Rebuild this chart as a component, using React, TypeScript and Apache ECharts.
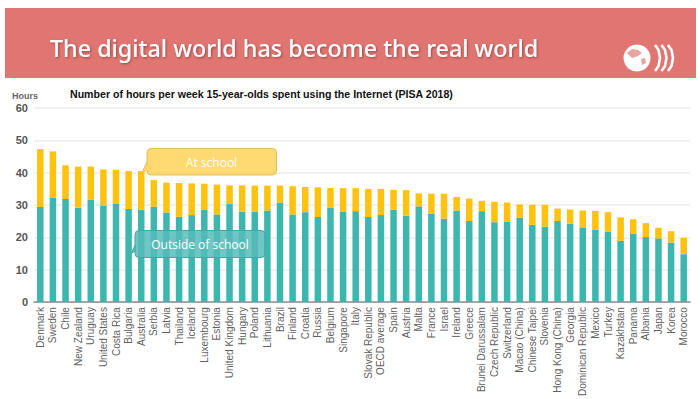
import React, { useEffect, useRef } from "react";
import * as echarts from "echarts";

const countries = [
  "Denmark", "Sweden", "Chile", "New Zealand", "Uruguay", "United States", "Costa Rica", "Bulgaria", "Australia", "Serbia",
  "Latvia", "Thailand", "Iceland", "Luxembourg", "Estonia", "United Kingdom", "Hungary", "Poland", "Lithuania", "Brazil",
  "Finland", "Croatia", "Russia", "Belgium", "Singapore", "Italy", "Slovak Republic", "OECD average", "Spain", "Austria",
  "Malta", "France", "Israel", "Ireland", "Greece", "Brunei Darussalam", "Czech Republic", "Switzerland", "Macao (China)", "Chinese Taipei",
  "Slovenia", "Hong Kong (China)", "Georgia", "Dominican Republic", "Mexico", "Turkey", "Kazakhstan", "Panama", "Albania", "Japan",
  "Korea", "Morocco",
];

const outsideSchool = [
  29.4, 32.3, 31.9, 29.2, 31.6, 29.7, 30.5, 28.8, 28.6, 29.5,
  27.7, 26.4, 26.9, 28.6, 27.1, 30.3, 27.9, 27.9, 28.3, 30.7,
  27.1, 27.8, 26.3, 29.1, 28.0, 28.1, 26.3, 26.9, 28.6, 26.7,
  29.6, 27.4, 25.8, 28.3, 25.1, 28.1, 24.7, 24.9, 26.1, 23.9,
  23.3, 25.1, 24.2, 23.1, 22.4, 21.7, 19.0, 21.2, 20.1, 19.7,
  18.4, 14.8,
];

const atSchool = [
  17.9, 14.3, 10.4, 12.7, 10.3, 11.3, 10.4, 11.7, 11.9, 8.2,
  9.2, 10.4, 9.8, 8.0, 9.2, 5.8, 8.2, 8.1, 7.7, 5.3,
  8.7, 7.8, 9.2, 6.2, 7.2, 7.1, 8.7, 8.1, 6.1, 7.9,
  4.0, 6.1, 7.7, 4.2, 6.9, 3.2, 6.3, 5.9, 4.1, 6.2,
  6.8, 3.8, 4.4, 5.2, 5.8, 6.1, 7.2, 4.4, 4.3, 3.3,
  3.5, 5.1,
];

const yTicks = [0, 10, 20, 30, 40, 50, 60];

const TEAL = "#3DB6B0";
const YELLOW = "#FFC20E";

export default function App() {
  const ref = useRef<HTMLDivElement>(null);

  useEffect(() => {
    document.body.style.margin = "0";
    if (!ref.current) return;
    const chart = echarts.init(ref.current, undefined, { renderer: "svg" });

    const chevron = (x: number) => ({
      type: "polyline",
      shape: { points: [[x, 45], [x + 3.5, 50], [x + 5, 58], [x + 3.5, 66], [x, 71]] },
      style: { stroke: "#ffffff", lineWidth: 2.6, fill: "none" },
      z: 11,
    });

    const option: any = {
      animation: false,
      backgroundColor: "#ffffff",
      grid: { left: 34, right: 10, top: 108, bottom: 92, containLabel: false },
      xAxis: {
        type: "category",
        data: countries,
        axisLine: { lineStyle: { color: "#8c8c8c", width: 1.5 } },
        axisTick: { show: false },
        axisLabel: {
          rotate: 90,
          interval: 0,
          margin: 5,
          color: "#5f5f5f",
          fontSize: 10,
          fontFamily: "Liberation Sans, Arial, sans-serif",
        },
      },
      yAxis: {
        type: "value",
        min: yTicks[0],
        max: yTicks[yTicks.length - 1],
        interval: 10,
        name: "Hours",
        nameLocation: "end",
        nameGap: 8,
        nameTextStyle: {
          color: "#666",
          fontSize: 9,
          fontWeight: "bold",
          align: "left",
          padding: [0, 0, 0, -22],
          fontFamily: "Liberation Sans, Arial, sans-serif",
        },
        axisLine: { show: false },
        axisTick: { show: false },
        splitLine: { lineStyle: { color: "#ececec", width: 1.5 } },
        axisLabel: {
          margin: 6,
          color: "#555",
          fontSize: 11,
          fontWeight: "bold",
          fontFamily: "Liberation Sans, Arial, sans-serif",
        },
      },
      series: [
        {
          name: "Outside of school",
          type: "bar",
          stack: "total",
          data: outsideSchool,
          barWidth: 6.5,
          itemStyle: { color: TEAL },
        },
        {
          name: "At school",
          type: "bar",
          stack: "total",
          data: atSchool,
          barWidth: 6.5,
          itemStyle: { color: YELLOW },
        },
      ],
      graphic: [
        {
          type: "rect",
          shape: { x: 5, y: 8, width: 691, height: 70 },
          style: { fill: "#E07571" },
          z: 10,
        },
        {
          type: "text",
          x: 50,
          y: 48,
          style: {
            text: "The digital world has become the real world",
            fill: "#ffffff",
            fontSize: 23.3,
            fontFamily: "Noto Sans, sans-serif",
            fontWeight: 500,
            verticalAlign: "middle",
            textShadowColor: "rgba(0,0,0,0.35)",
            textShadowBlur: 2,
            textShadowOffsetX: 1,
            textShadowOffsetY: 1,
          },
          z: 11,
        },
        {
          type: "circle",
          shape: { cx: 637, cy: 58, r: 13.5 },
          style: { fill: "#ffffff" },
          z: 11,
        },
        {
          type: "polygon",
          shape: { points: [[627, 53], [632, 49], [638, 50], [642, 53], [638, 56], [632, 58]] },
          style: { fill: "#E9A3A0" },
          z: 12,
        },
        {
          type: "polygon",
          shape: { points: [[641, 59], [645, 58], [646, 63], [642, 65]] },
          style: { fill: "#E9A3A0" },
          z: 12,
        },
        chevron(655),
        chevron(661.5),
        chevron(668),
        {
          type: "text",
          x: 70,
          y: 94,
          style: {
            text: "Number of hours per week 15-year-olds spent using the Internet (PISA 2018)",
            fill: "#111",
            fontSize: 10.6,
            fontWeight: "bold",
            fontFamily: "Liberation Sans, Arial, sans-serif",
            verticalAlign: "middle",
          },
          z: 11,
        },
        // At school callout
        {
          type: "polygon",
          shape: { points: [[147, 162], [142.5, 171.5], [152, 170]] },
          style: { fill: "rgba(255,214,102,0.92)", stroke: "#E3BE5C", lineWidth: 1 },
          z: 20,
        },
        {
          type: "rect",
          shape: { x: 147, y: 148.5, width: 129.5, height: 26.5, r: 4 },
          style: { fill: "rgba(255,214,102,0.92)", stroke: "#E3BE5C", lineWidth: 1 },
          z: 20,
        },
        {
          type: "polygon",
          shape: { points: [[147.5, 164], [147.5, 171], [143, 171.5]] },
          style: { fill: "rgba(255,214,102,1)" },
          z: 21,
        },
        {
          type: "text",
          x: 211.5,
          y: 162,
          style: {
            text: "At school",
            fill: "#ffffff",
            fontSize: 12,
            fontFamily: "Open Sans, sans-serif",
            align: "center",
            verticalAlign: "middle",
          },
          z: 22,
        },
        // Outside of school callout
        {
          type: "polygon",
          shape: { points: [[135.5, 244], [131.5, 253], [135.5, 251]] },
          style: { fill: "rgba(86,188,186,0.85)", stroke: "#3FA9A6", lineWidth: 1 },
          z: 20,
        },
        {
          type: "rect",
          shape: { x: 135, y: 230.5, width: 130, height: 27, r: 4 },
          style: { fill: "rgba(86,188,186,0.85)", stroke: "#3FA9A6", lineWidth: 1 },
          z: 20,
        },
        {
          type: "text",
          x: 200,
          y: 244,
          style: {
            text: "Outside of school",
            fill: "#ffffff",
            fontSize: 12,
            fontFamily: "Open Sans, sans-serif",
            align: "center",
            verticalAlign: "middle",
          },
          z: 22,
        },
      ],
    };

    chart.setOption(option);
    return () => chart.dispose();
  }, []);

  return <div ref={ref} style={{ width: 700, height: 399 }} />;
}
